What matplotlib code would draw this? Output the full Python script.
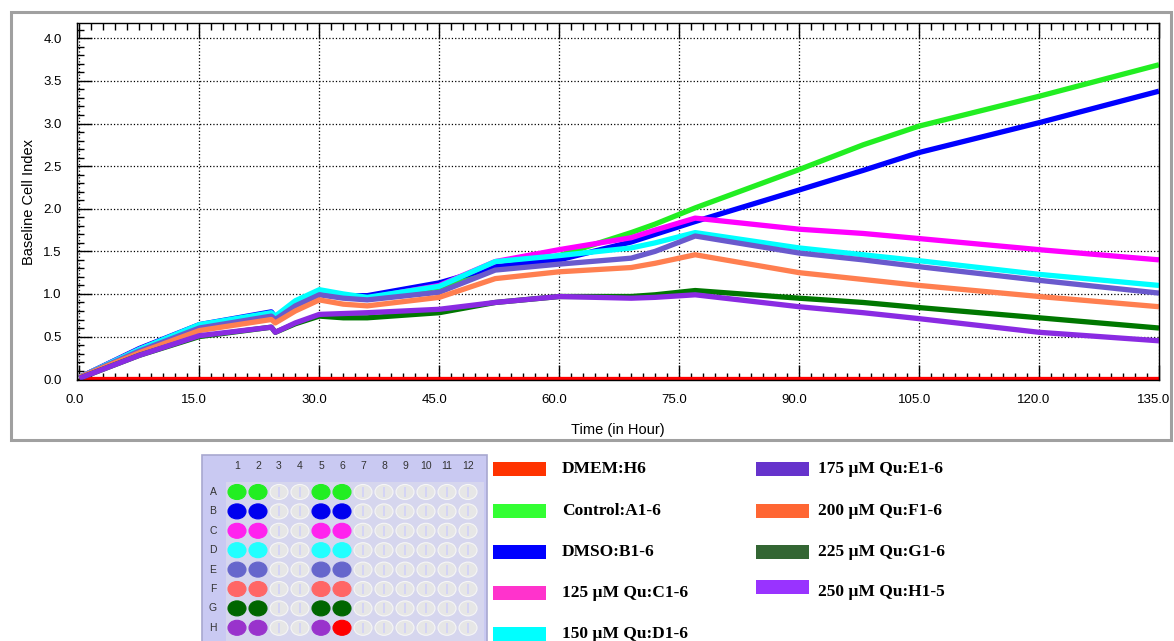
"""
Baseline cell index over time (xCELLigence-style plot) with the plate map and
colour key underneath. Output: out.png (1174 x 641 px).
"""
import numpy as np
import matplotlib
matplotlib.use("Agg")
import matplotlib.pyplot as plt
import matplotlib.transforms as mtransforms
from matplotlib.patches import Rectangle, Ellipse
from matplotlib.ticker import MultipleLocator, FormatStrFormatter

# ---- data -------------------------------------------------------------------
hours = [0, 7.5, 15, 24, 24.5, 27, 30, 33, 36, 45, 52, 60, 69, 72, 77, 90, 98, 105, 120, 135]

dmem      = [0.0] * len(hours)
control   = [0.02, 0.35, 0.62, 0.77, 0.72, 0.88, 1.02, 0.97, 0.95, 1.08, 1.30, 1.45, 1.72, 1.82, 2.01, 2.46, 2.75, 2.97, 3.32, 3.69]
dmso      = [0.02, 0.36, 0.64, 0.79, 0.73, 0.90, 1.02, 0.98, 0.98, 1.13, 1.32, 1.40, 1.61, 1.70, 1.85, 2.22, 2.45, 2.66, 3.01, 3.38]
qu125     = [0.02, 0.35, 0.63, 0.77, 0.72, 0.89, 1.01, 0.97, 0.95, 1.10, 1.38, 1.52, 1.66, 1.75, 1.89, 1.76, 1.71, 1.65, 1.52, 1.40]
qu150     = [0.02, 0.35, 0.64, 0.78, 0.74, 0.92, 1.05, 1.00, 0.96, 1.09, 1.38, 1.45, 1.54, 1.60, 1.72, 1.54, 1.46, 1.39, 1.23, 1.10]
qu175     = [0.02, 0.33, 0.60, 0.74, 0.70, 0.86, 0.99, 0.95, 0.93, 1.02, 1.28, 1.35, 1.42, 1.50, 1.68, 1.48, 1.40, 1.32, 1.16, 1.01]
qu200     = [0.02, 0.31, 0.57, 0.70, 0.66, 0.80, 0.93, 0.88, 0.86, 0.96, 1.18, 1.26, 1.31, 1.36, 1.46, 1.25, 1.17, 1.10, 0.97, 0.85]
qu225     = [0.01, 0.28, 0.50, 0.61, 0.55, 0.65, 0.74, 0.72, 0.72, 0.78, 0.90, 0.97, 0.97, 0.99, 1.04, 0.95, 0.90, 0.84, 0.72, 0.60]
qu250     = [0.01, 0.28, 0.51, 0.61, 0.55, 0.66, 0.76, 0.77, 0.78, 0.82, 0.90, 0.97, 0.95, 0.96, 0.99, 0.85, 0.78, 0.71, 0.55, 0.45]

series = [dmem, control, dmso, qu125, qu150, qu175, qu200, qu225, qu250]
labels = ["DMEM:H6", "Control:A1-6", "DMSO:B1-6", "125 µM Qu:C1-6", "150 µM Qu:D1-6",
          "175 µM Qu:E1-6", "200 µM Qu:F1-6", "225 µM Qu:G1-6", "250 µM Qu:H1-5"]
line_colors = ["#ff0000", "#22ee22", "#0000ff", "#ff00ff", "#00ffff",
               "#6a5acd", "#ff7f50", "#007700", "#8a2be2"]
key_colors = ["#ff3300", "#33ff33", "#0000ff", "#ff33cc", "#00ffff",
              "#6633cc", "#ff6633", "#336633", "#9933ff"]

# plate map: rows A-H, wells used in columns 1, 2, 5, 6
plate_rows = list("ABCDEFGH")
plate_cols = list(range(1, 13))
used_cols = [1, 2, 5, 6]
row_colors = ["#22ee22", "#0000ee", "#ff22ee", "#22ffff",
              "#6666cc", "#ff6666", "#006600", "#9933cc"]
h6_color = "#ff0000"

# ---- figure ----------------------------------------------------------------
W, H = 1174, 641
fig = plt.figure(figsize=(W / 100, H / 100), dpi=100)
plt.rcParams["font.family"] = ["Liberation Sans", "DejaVu Sans"]

ax = fig.add_axes([77 / W, 1 - 380 / H, (1159 - 77) / W, (380 - 23) / H])
for s, c in zip(series, line_colors):
    ax.plot(hours, s, color=c, lw=3.8, solid_capstyle="butt")

ax.set_xlim(-0.3, 135)
ax.set_ylim(-0.01, 4.18)
ax.xaxis.set_major_locator(MultipleLocator(15))
ax.xaxis.set_minor_locator(MultipleLocator(1.5))
ax.yaxis.set_major_locator(MultipleLocator(0.5))
ax.yaxis.set_minor_locator(MultipleLocator(0.1))
ax.xaxis.set_major_formatter(FormatStrFormatter("%.1f"))
ax.yaxis.set_major_formatter(FormatStrFormatter("%.1f"))
ax.tick_params(which="both", direction="in", top=True, right=False,
               labelsize=9.5, colors="black", width=1)
ax.tick_params(which="major", length=11)
ax.tick_params(axis="x", which="major", pad=10)
ax.tick_params(axis="y", which="major", pad=11)
ax.tick_params(which="minor", length=5)
# the x labels sit a few pixels left of their ticks in the original
shift = mtransforms.ScaledTranslation(-5 / 100, 0, fig.dpi_scale_trans)
for lbl in ax.get_xticklabels():
    lbl.set_transform(lbl.get_transform() + shift)
ax.grid(True, which="major", ls=":", color="black", lw=0.9)
for sp in ax.spines.values():
    sp.set_linewidth(1.0)
ax.set_xlabel("Time (in Hour)", fontsize=10.5, labelpad=12)
ax.set_ylabel("Baseline Cell Index", fontsize=10.5, labelpad=5)

# ---- overlay in pixel coords: frame, plate map, colour key ----------------
ov = fig.add_axes([0, 0, 1, 1], zorder=3)
ov.set_xlim(0, W)
ov.set_ylim(H, 0)
ov.axis("off")

ov.add_patch(Rectangle((11, 12), 1160, 428, fill=False, ec="#a0a0a0", lw=2.2))

# plate
ov.add_patch(Rectangle((202, 455), 285, 200, fc="#c9c9f2", ec="#a8a8d0", lw=1.2))
ov.add_patch(Rectangle((226, 482), 258, 170, fc="#d6d6ee", ec="none"))
col_x0, col_dx = 237, 21
row_y0, row_dy = 492, 19.4
for j, col in enumerate(plate_cols):
    ov.text(col_x0 + j * col_dx, 466, str(col), fontsize=7.5, ha="center",
            va="center", color="#333333")
for i, row in enumerate(plate_rows):
    y = row_y0 + i * row_dy
    ov.text(213, y, row, fontsize=7.5, ha="center", va="center", color="#333333")
    for j, col in enumerate(plate_cols):
        x = col_x0 + j * col_dx
        if col in used_cols:
            fc = h6_color if (row == "H" and col == 6) else row_colors[i]
            ec = fc
        else:
            fc, ec = "#e6e6e6", "#f6f6f6"
        ov.add_patch(Ellipse((x, y), 18, 15, fc=fc, ec=ec, lw=0.8))
        if col not in used_cols:
            ov.add_patch(Rectangle((x - 1.2, y - 5), 2.4, 10, fc="#d4d4f4", ec="none"))

# colour key
key_rows = [469, 511, 552, 593, 634]
for k, (lab, c) in enumerate(zip(labels, key_colors)):
    col, r = divmod(k, 5)
    bx = 493 if col == 0 else 756
    y = key_rows[r] if not (col == 1 and r == 3) else 587
    ov.add_patch(Rectangle((bx, y - 7), 53, 14, fc=c, ec="none"))
    ty = key_rows[r] if not (col == 1 and r == 3) else 592
    ov.text(bx + 69 if col == 0 else bx + 62, ty, lab, fontsize=12.5,
            family="Liberation Serif", weight="bold", va="center", ha="left")

fig.savefig("out.png", dpi=100)
